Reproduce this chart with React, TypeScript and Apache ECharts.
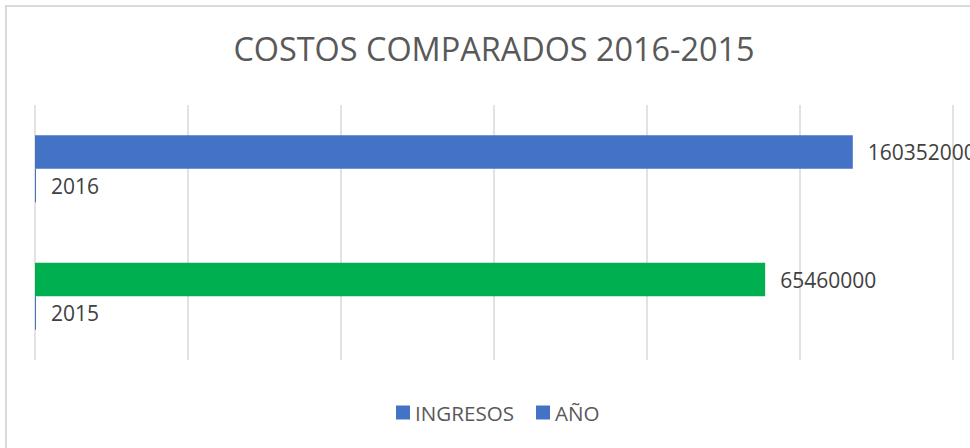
import React, { useEffect, useRef } from "react";
import * as echarts from "echarts";

const TITLE = "COSTOS COMPARADOS 2016-2015";
const categories = ["2016", "2015"];
const ingresos2016 = [160352000, "-"];
const ingresos2015 = ["-", 65460000];
const anio = [2016, 2015];
const legendNames = ["INGRESOS", "AÑO"];

const FONT = "'Open Sans', sans-serif";

export default function App() {
  const ref = useRef<HTMLDivElement>(null);
  useEffect(() => {
    document.body.style.margin = "0";
    if (!ref.current) return;
    const chart = echarts.init(ref.current, undefined, { renderer: "svg" });
    const label = {
      show: true,
      position: "right",
      distance: 15,
      color: "#404040",
      fontSize: 21,
      fontFamily: FONT,
    };
    chart.setOption({
      animation: false,
      backgroundColor: "#ffffff",
      title: {
        text: TITLE,
        left: 494,
        top: 32,
        padding: 0,
        textAlign: "center",
        textStyle: { fontSize: 32.4, fontWeight: "normal", color: "#595959", fontFamily: FONT },
      },
      legend: {
        data: legendNames,
        left: 396,
        top: 402,
        padding: 0,
        itemWidth: 14,
        itemHeight: 14,
        itemGap: 22,
        icon: "rect",
        textStyle: { fontSize: 20.6, color: "#595959", fontFamily: FONT },
      },
      graphic: [
        {
          type: "rect",
          shape: { x: 6, y: 6, width: 1100, height: 600 },
          style: { fill: "none", stroke: "#D9D9D9", lineWidth: 2 },
          silent: true,
        },
      ],
      grid: { left: 35, right: 17, top: 105, bottom: 88 },
      xAxis: [
        {
          type: "value",
          min: 0,
          max: 180000000,
          interval: 30000000,
          axisLabel: { show: false },
          axisLine: { show: false },
          axisTick: { show: false },
          splitLine: { show: true, lineStyle: { color: "#D9D9D9", width: 1.5 } },
        },
        {
          type: "value",
          min: 0,
          max: 82300000,
          show: false,
          splitLine: { show: false },
        },
      ],
      yAxis: {
        type: "category",
        data: categories,
        inverse: true,
        axisLabel: { show: false },
        axisLine: { show: false },
        axisTick: { show: false },
        splitLine: { show: false },
      },
      series: [
        {
          name: "INGRESOS",
          type: "bar",
          xAxisIndex: 0,
          stack: "ing",
          data: ingresos2016,
          barWidth: 33.5,
          barGap: 0,
          itemStyle: { color: "#4472C4" },
          label,
        },
        {
          name: "INGRESOS",
          type: "bar",
          xAxisIndex: 1,
          stack: "ing",
          data: ingresos2015,
          barWidth: 33.5,
          barGap: 0,
          itemStyle: { color: "#00B050" },
          label,
        },
        {
          name: "AÑO",
          type: "bar",
          xAxisIndex: 0,
          data: anio,
          barWidth: 33.5,
          barGap: 0,
          barMinHeight: 1,
          itemStyle: { color: "#4472C4" },
          label,
        },
      ],
    });
    return () => chart.dispose();
  }, []);
  return <div ref={ref} style={{ width: 970, height: 448 }} />;
}
